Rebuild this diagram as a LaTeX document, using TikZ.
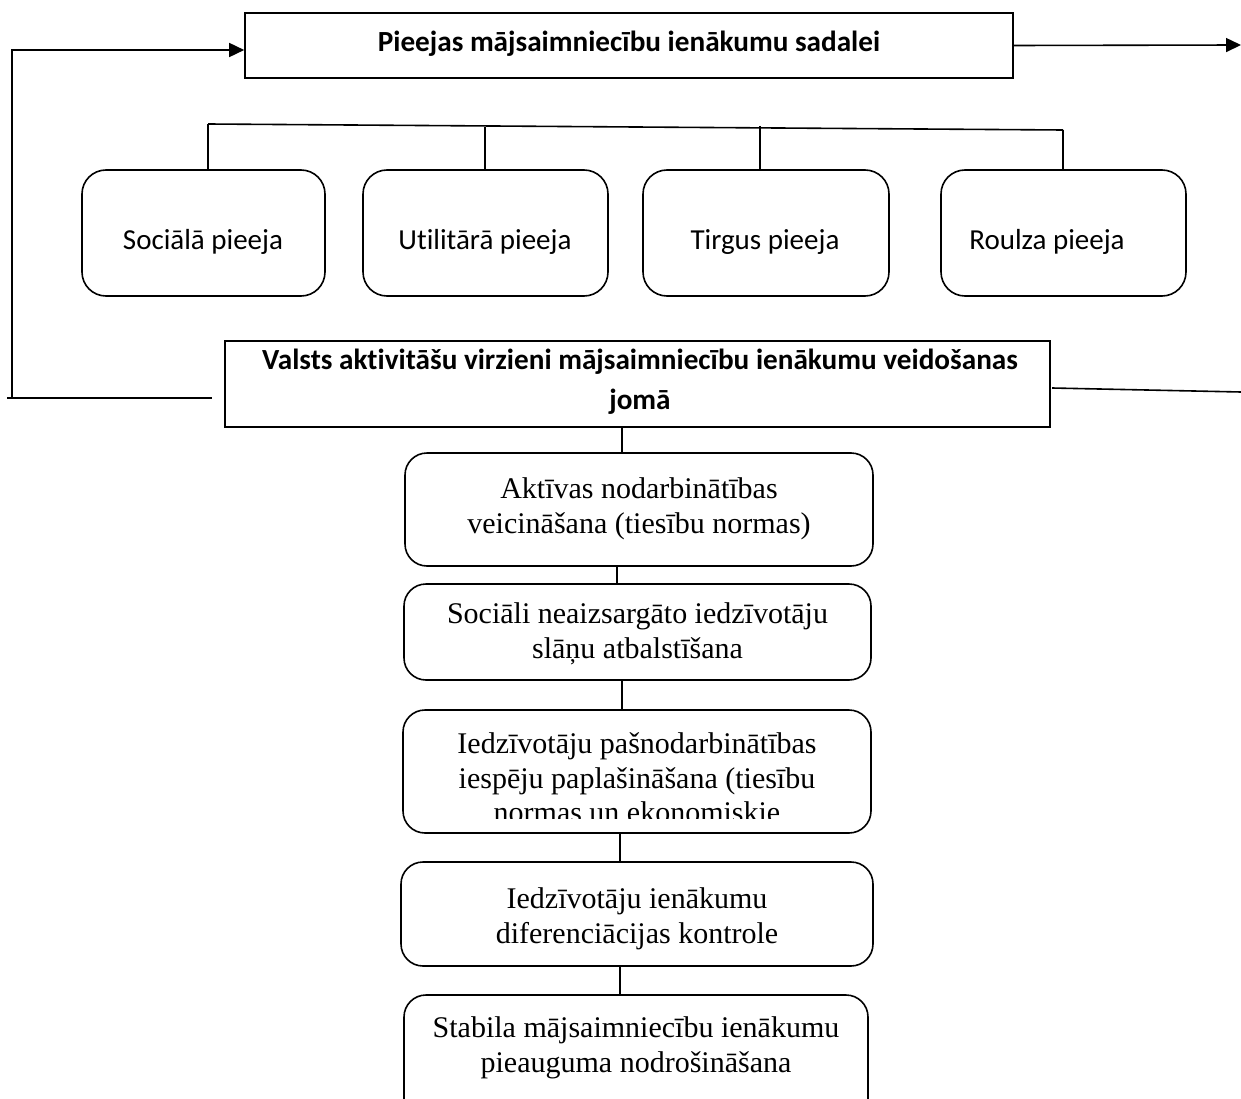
\documentclass[tikz,border=0pt]{standalone}
\usepackage{fontspec}
\setmainfont{Liberation Serif}
\setsansfont{Carlito}[Ligatures={NoCommon}]
\usetikzlibrary{arrows.meta,calc}
\begin{document}
\begin{tikzpicture}[x=1pt,y=-1pt,
  ln/.style={line width=1.6pt, line cap=butt},
  arr/.style={ln, -{Triangle[length=15pt,width=14pt]}},
  sqbox/.style={draw, line width=1.6pt, inner sep=0pt},
  pillbox/.style={draw, line width=1.6pt, rounded corners=24pt, inner sep=0pt},
  stepbox/.style={draw, line width=1.6pt, rounded corners=22pt, inner sep=0pt},
  boldtxt/.style={inner sep=0pt, align=center, font=\sffamily\bfseries\fontsize{29.2}{40}\selectfont},
  sanstxt/.style={inner sep=0pt, align=center, font=\sffamily\fontsize{29}{35}\selectfont},
  txt/.style={inner sep=0pt, align=center, font=\fontsize{30}{34.5}\selectfont}
]
\useasboundingbox (0,0) rectangle (1241,1099);
\clip (0,0) rectangle (1241,1099);

% top box
\node[sqbox, minimum width=768pt, minimum height=65pt] (top) at (629,45.5) {};
\node[boldtxt] (topt) at (629,44) {Pieejas mājsaimniecību ienākumu sadalei};

% four approaches
\node[pillbox, minimum width=243pt, minimum height=126pt] (bA) at (203.5,233) {};
\node[pillbox, minimum width=245pt, minimum height=126pt] (bB) at (485.5,233) {};
\node[pillbox, minimum width=246pt, minimum height=126pt] (bC) at (766,233) {};
\node[pillbox, minimum width=245pt, minimum height=126pt] (bD) at (1063.5,233) {};
\node[sanstxt] (bAt) at (203,242) {Sociālā pieeja};
\node[sanstxt] (bBt) at (485,242) {Utilitārā pieeja};
\node[sanstxt] (bCt) at (765,242.5) {Tirgus pieeja};
\node[sanstxt] (bDt) at (1047,242) {Roulza pieeja};

% bracket
\coordinate (t1) at (208,124);
\coordinate (t2) at (485,127);
\coordinate (t3) at (760,126);
\coordinate (t4) at (1063,130);
\draw[ln] (t1) -- (t4);
\draw[ln] (t1) -- (t1 |- bA.north);
\draw[ln] (t2) -- (t2 |- bB.north);
\draw[ln] (t3) -- (t3 |- bC.north);
\draw[ln] (t4) -- (t4 |- bD.north);

% middle box
\node[sqbox, minimum width=825pt, minimum height=86pt] (mid) at (637.5,384) {};
\node[boldtxt] (midt) at (640,382)
  {Valsts aktivitāšu virzieni mājsaimniecību ienākumu veidošanas\\jomā};

% left loop
\coordinate (L1) at (12,50);
\coordinate (L2) at (12,398);
\coordinate (L0) at (7,398);
\coordinate (L3) at (212,398);
\draw[ln] (L0) -- (L3);
\draw[arr] (L2) -- (L1) -- (top.west |- L1);

% right lines
\coordinate (R1) at (1241,45);
\draw[arr] (top.east) -- (R1);
\coordinate (R2a) at (1052,388);
\coordinate (R2b) at (1241,392);
\draw[ln] (R2a) -- (R2b);

% steps
\node[stepbox, minimum width=468pt, minimum height=113pt] (s1) at (639,509.5) {};
\node[txt] (s1t) at (639,509) {Aktīvas nodarbinātības\\veicināšana (tiesību normas)};
\node[stepbox, minimum width=467pt, minimum height=96pt] (s2) at (637.5,632) {};
\node[txt] (s2t) at (637.5,634) {Sociāli neaizsargāto iedzīvotāju\\slāņu atbalstīšana};
\node[stepbox, minimum width=468pt, minimum height=123pt] (s3) at (637,771.5) {};
\begin{scope}
  \clip (403,700) rectangle (871,818);
  \node[txt] (s3t) at (637,778)
    {Iedzīvotāju pašnodarbinātības\\iespēju paplašināšana (tiesību\\normas un ekonomiskie};
\end{scope}
\node[stepbox, minimum width=472pt, minimum height=104pt] (s4) at (637,914) {};
\node[txt] (s4t) at (637,919) {Iedzīvotāju ienākumu\\diferenciācijas kontrole};
\node[stepbox, minimum width=464pt, minimum height=140pt] (s5) at (636,1065) {};
\node[txt] (s5t) at (636,1048) {Stabila mājsaimniecību ienākumu\\pieauguma nodrošināšana};

% vertical connectors
\draw[ln] ([xshift=-15.5pt]mid.south) -- ([xshift=-17pt]s1.north);
\draw[ln] ([xshift=-22pt]s1.south) -- ([xshift=-20.5pt]s2.north);
\draw[ln] ([xshift=-15.5pt]s2.south) -- ([xshift=-15pt]s3.north);
\draw[ln] ([xshift=-17pt]s3.south) -- ([xshift=-17pt]s4.north);
\draw[ln] ([xshift=-17pt]s4.south) -- ([xshift=-16pt]s5.north);
\end{tikzpicture}
\end{document}
